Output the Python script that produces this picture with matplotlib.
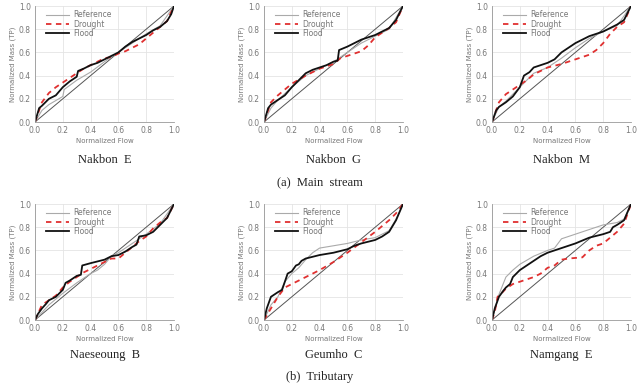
import matplotlib
matplotlib.use("Agg")
import matplotlib.pyplot as plt

# Station names and group captions
stations = ["Nakbon  E", "Nakbon  G", "Nakbon  M", "Naeseoung  B", "Geumho  C", "Namgang  E"]
group_captions = ["(a)  Main  stream", "(b)  Tributary"]

# Curves: (normalized flow, normalized mass)
ref_x = [
    [0, 0.05, 0.1, 0.2, 0.21, 0.3, 0.4, 0.5, 0.6, 0.7, 0.8, 0.9, 1.0],
    [0, 0.05, 0.1, 0.2, 0.3, 0.4, 0.5, 0.6, 0.7, 0.8, 0.9, 1.0],
    [0, 0.05, 0.1, 0.2, 0.25, 0.3, 0.4, 0.5, 0.6, 0.7, 0.8, 0.9, 1.0],
    [0, 0.1, 0.2, 0.3, 0.4, 0.45, 0.5, 0.55, 0.6, 0.7, 0.8, 0.9, 1.0],
    [0, 0.05, 0.1, 0.15, 0.2, 0.25, 0.3, 0.35, 0.4, 0.5, 0.6, 0.7, 0.8, 0.9, 0.95, 1.0],
    [0, 0.05, 0.07, 0.1, 0.15, 0.2, 0.3, 0.4, 0.45, 0.5, 0.6, 0.7, 0.8, 0.9, 0.95, 1.0],
]
ref_y = [
    [0, 0.1, 0.15, 0.22, 0.28, 0.36, 0.43, 0.52, 0.6, 0.68, 0.76, 0.83, 1.0],
    [0, 0.12, 0.19, 0.3, 0.4, 0.46, 0.52, 0.6, 0.68, 0.74, 0.8, 1.0],
    [0, 0.13, 0.18, 0.3, 0.36, 0.42, 0.47, 0.55, 0.64, 0.72, 0.78, 0.83, 1.0],
    [0, 0.13, 0.23, 0.32, 0.4, 0.43, 0.48, 0.55, 0.58, 0.66, 0.74, 0.83, 1.0],
    [0, 0.13, 0.2, 0.33, 0.4, 0.45, 0.52, 0.58, 0.62, 0.64, 0.66, 0.69, 0.71, 0.77, 0.87, 1.0],
    [0, 0.22, 0.28, 0.37, 0.43, 0.48, 0.55, 0.6, 0.62, 0.7, 0.74, 0.78, 0.82, 0.84, 0.87, 1.0],
]
drought_x = [
    [0, 0.05, 0.1, 0.15, 0.2, 0.25, 0.3, 0.35, 0.4, 0.45, 0.5, 0.55, 0.6, 0.65, 0.7, 0.75, 0.8, 0.85, 0.9, 0.95, 1.0],
    [0, 0.05, 0.1, 0.15, 0.2, 0.3, 0.4, 0.5, 0.55, 0.6, 0.7, 0.75, 0.8, 0.85, 0.9, 0.95, 1.0],
    [0, 0.05, 0.1, 0.15, 0.2, 0.25, 0.3, 0.35, 0.4, 0.5, 0.55, 0.6, 0.7, 0.75, 0.8, 0.85, 0.9, 0.95, 1.0],
    [0, 0.05, 0.1, 0.15, 0.2, 0.25, 0.3, 0.35, 0.4, 0.45, 0.5, 0.55, 0.6, 0.65, 0.7, 0.75, 0.8, 0.85, 0.9, 0.95, 1.0],
    [0, 0.05, 0.1, 0.15, 0.2, 0.25, 0.3, 0.4, 0.5, 0.6, 0.7, 0.8, 0.9, 0.95, 1.0],
    [0, 0.02, 0.04, 0.06, 0.1, 0.15, 0.2, 0.25, 0.3, 0.35, 0.4, 0.45, 0.5, 0.55, 0.65, 0.7, 0.75, 0.8, 0.85, 0.9, 0.95, 1.0],
]
drought_y = [
    [0, 0.17, 0.25, 0.3, 0.34, 0.38, 0.42, 0.46, 0.49, 0.52, 0.55, 0.56, 0.59, 0.61, 0.64, 0.67, 0.72, 0.77, 0.82, 0.87, 1.0],
    [0, 0.17, 0.23, 0.28, 0.33, 0.4, 0.46, 0.5, 0.55, 0.57, 0.61, 0.66, 0.73, 0.77, 0.81, 0.86, 1.0],
    [0, 0.17, 0.24, 0.28, 0.32, 0.36, 0.41, 0.44, 0.47, 0.5, 0.52, 0.54, 0.58, 0.62, 0.68, 0.76, 0.82, 0.86, 1.0],
    [0, 0.13, 0.17, 0.21, 0.28, 0.33, 0.37, 0.41, 0.44, 0.47, 0.5, 0.53, 0.53, 0.58, 0.63, 0.68, 0.72, 0.79, 0.84, 0.88, 1.0],
    [0, 0.1, 0.2, 0.28, 0.31, 0.34, 0.37, 0.43, 0.5, 0.58, 0.67, 0.76, 0.86, 0.92, 1.0],
    [0, 0.07, 0.2, 0.22, 0.27, 0.31, 0.33, 0.35, 0.37, 0.4, 0.45, 0.47, 0.52, 0.53, 0.54, 0.6, 0.64, 0.66, 0.71, 0.76, 0.83, 1.0],
]
flood_x = [
    [0, 0.03, 0.05, 0.1, 0.15, 0.2, 0.25, 0.3, 0.31, 0.35, 0.4, 0.45, 0.5, 0.55, 0.6, 0.65, 0.7, 0.75, 0.8, 0.85, 0.9, 0.95, 0.98, 1.0],
    [0, 0.03, 0.05, 0.1, 0.15, 0.2, 0.25, 0.3, 0.35, 0.4, 0.45, 0.5, 0.53, 0.54, 0.6, 0.65, 0.7, 0.75, 0.8, 0.85, 0.9, 0.95, 1.0],
    [0, 0.03, 0.05, 0.1, 0.15, 0.2, 0.23, 0.27, 0.3, 0.35, 0.4, 0.45, 0.5, 0.55, 0.6, 0.7, 0.75, 0.8, 0.85, 0.9, 0.95, 1.0],
    [0, 0.02, 0.05, 0.08, 0.1, 0.15, 0.2, 0.22, 0.25, 0.3, 0.33, 0.34, 0.4, 0.5, 0.55, 0.6, 0.65, 0.7, 0.73, 0.75, 0.8, 0.85, 0.9, 0.95, 1.0],
    [0, 0.02, 0.05, 0.1, 0.13, 0.17, 0.2, 0.23, 0.25, 0.27, 0.3, 0.4, 0.5, 0.6, 0.65, 0.7, 0.8, 0.85, 0.9, 0.95, 1.0],
    [0, 0.02, 0.05, 0.08, 0.1, 0.13, 0.15, 0.2, 0.25, 0.3, 0.35, 0.4, 0.5, 0.6, 0.7, 0.8, 0.85, 0.87, 0.9, 0.95, 1.0],
]
flood_y = [
    [0, 0.12, 0.14, 0.2, 0.23, 0.3, 0.35, 0.39, 0.44, 0.46, 0.49, 0.51, 0.54, 0.57, 0.6, 0.65, 0.69, 0.72, 0.75, 0.79, 0.82, 0.87, 0.93, 1.0],
    [0, 0.12, 0.15, 0.19, 0.23, 0.3, 0.36, 0.42, 0.45, 0.47, 0.49, 0.52, 0.53, 0.62, 0.65, 0.68, 0.71, 0.73, 0.75, 0.78, 0.81, 0.88, 1.0],
    [0, 0.1, 0.13, 0.17, 0.22, 0.3, 0.4, 0.43, 0.47, 0.49, 0.51, 0.54, 0.6, 0.64, 0.68, 0.74, 0.76, 0.78, 0.81, 0.84, 0.88, 1.0],
    [0, 0.05, 0.1, 0.14, 0.17, 0.2, 0.26, 0.32, 0.34, 0.38, 0.39, 0.47, 0.49, 0.52, 0.55, 0.56, 0.59, 0.63, 0.65, 0.72, 0.73, 0.76, 0.82, 0.88, 1.0],
    [0, 0.1, 0.2, 0.24, 0.26, 0.4, 0.42, 0.47, 0.48, 0.51, 0.53, 0.56, 0.58, 0.61, 0.64, 0.66, 0.69, 0.72, 0.76, 0.86, 1.0],
    [0, 0.1, 0.2, 0.25, 0.28, 0.31, 0.37, 0.43, 0.47, 0.51, 0.55, 0.58, 0.62, 0.66, 0.71, 0.74, 0.76, 0.8, 0.82, 0.86, 1.0],
]
ticks = [0.0, 0.2, 0.4, 0.6, 0.8, 1.0]

fig = plt.figure(figsize=(6.4, 3.84), dpi=100)

lefts = [35 / 640, 264 / 640, 492 / 640]
bottoms = [1 - 122 / 384, 1 - 320 / 384]
label_y = [1 - 160 / 384, 1 - 355 / 384]
w = 139 / 640
h = 116 / 384
gray = "#777777"

for i in range(6):
    row, col = divmod(i, 3)
    ax = fig.add_axes([lefts[col], bottoms[row], w, h])
    ax.plot([0, 1], [0, 1], color="#555555", lw=0.7)
    ax.plot(ref_x[i], ref_y[i], color="#aaaaaa", lw=0.8, label="Reference")
    ax.plot(drought_x[i], drought_y[i], color="#e03030", lw=1.3, ls=(0, (3, 2.5)), label="Drought")
    ax.plot(flood_x[i], flood_y[i], color="#111111", lw=1.3, label="Flood")
    ax.set_xlim(0, 1)
    ax.set_ylim(0, 1)
    ax.set_xticks(ticks)
    ax.set_yticks(ticks)
    ax.set_xticklabels([f"{t:.1f}" for t in ticks])
    ax.set_yticklabels([f"{t:.1f}" for t in ticks])
    ax.grid(True, color="#e4e4e4", lw=0.6)
    ax.tick_params(labelsize=5.5, colors=gray, length=0, pad=3)
    for s in ["top", "right"]:
        ax.spines[s].set_visible(False)
    for s in ["left", "bottom"]:
        ax.spines[s].set_color("#999999")
        ax.spines[s].set_linewidth(0.6)
    ax.set_xlabel("Normalized Flow", fontsize=5, color=gray, labelpad=2)
    ax.set_ylabel("Normalized Mass (TP)", fontsize=5, color=gray, labelpad=2)
    ax.legend(loc="upper left", bbox_to_anchor=(0.04, 1.01), fontsize=5.5, frameon=False,
              handlelength=3.0, handletextpad=0.6, labelspacing=0.05, borderpad=0.2,
              labelcolor=gray)
    fig.text(lefts[col] + w / 2, label_y[row], stations[i], ha="center", va="center",
             fontsize=9, family="Liberation Serif", color="#222222")

fig.text(0.5, 1 - 183 / 384, group_captions[0], ha="center", va="center",
         fontsize=9, family="Liberation Serif", color="#222222")
fig.text(0.5, 1 - 377 / 384, group_captions[1], ha="center", va="center",
         fontsize=9, family="Liberation Serif", color="#222222")

fig.savefig("out.png", dpi=100)
